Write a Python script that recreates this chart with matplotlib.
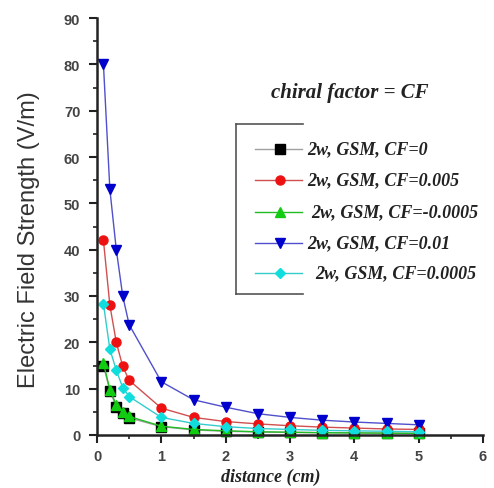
import matplotlib
matplotlib.use("Agg")
import matplotlib.pyplot as plt
from matplotlib.lines import Line2D
from matplotlib.ticker import MultipleLocator

# ---- data ----
distance = [0.1, 0.2, 0.3, 0.4, 0.5, 1.0, 1.5, 2.0, 2.5, 3.0, 3.5, 4.0, 4.5, 5.0]
cf_0 = [15.0, 9.6, 6.0, 4.8, 3.7, 1.8, 1.1, 0.8, 0.65, 0.55, 0.5, 0.45, 0.4, 0.35]
cf_0005 = [42.0, 28.0, 20.0, 14.8, 11.8, 5.8, 3.8, 2.9, 2.4, 2.0, 1.7, 1.5, 1.3, 1.2]
cf_neg00005 = [15.5, 9.8, 6.5, 5.0, 4.0, 1.9, 1.2, 0.9, 0.7, 0.6, 0.5, 0.45, 0.4, 0.35]
cf_001 = [80.0, 53.0, 40.0, 30.0, 23.8, 11.5, 7.6, 6.0, 4.6, 3.8, 3.2, 2.8, 2.5, 2.2]
cf_00005 = [28.3, 18.5, 14.0, 10.2, 8.3, 3.8, 2.5, 1.8, 1.4, 1.2, 1.0, 0.9, 0.8, 0.7]

labels = ["2w, GSM, CF=0", "2w, GSM, CF=0.005", "2w, GSM, CF=-0.0005",
          "2w, GSM, CF=0.01", "2w, GSM, CF=0.0005"]
x_ticks = [0, 1, 2, 3, 4, 5, 6]
y_ticks = [0, 10, 20, 30, 40, 50, 60, 70, 80, 90]

W, H = 494, 489
fig = plt.figure(figsize=(W / 100, H / 100), dpi=100)
ax = fig.add_axes([97 / W, 1 - 436 / H, (483 - 97) / W, (436 - 19) / H])

series = [
    (cf_0, "#a0a0a0", "black", "s"),
    (cf_0005, "#d05050", "#ee1111", "o"),
    (cf_neg00005, "#22bb22", "#11cc11", "^"),
    (cf_001, "#5050cc", "#0000cc", "v"),
    (cf_00005, "#33cccc", "#11dddd", "D"),
]
for vals, lc, mc, mk in series:
    ms = 6.5 if mk != "D" else 5
    ax.plot(distance, vals, color=lc, lw=1.0, marker=mk, ms=ms,
            markerfacecolor=mc, markeredgecolor=mc, clip_on=False)

ax.set_xlim(0, 6)
ax.set_ylim(0, 90)
ax.set_xticks(x_ticks)
ax.set_yticks(y_ticks)
ax.xaxis.set_minor_locator(MultipleLocator(0.5))
ax.yaxis.set_minor_locator(MultipleLocator(5))
for s in ["top", "right"]:
    ax.spines[s].set_visible(False)
for s in ["left", "bottom"]:
    ax.spines[s].set_linewidth(1.8)
    ax.spines[s].set_color("#222222")
ax.tick_params(which="major", direction="out", length=6, width=1.5,
               colors="#222222", labelsize=10.5)
ax.tick_params(axis="y", which="major", pad=6)
ax.tick_params(axis="x", which="major", pad=4)
ax.tick_params(which="minor", direction="out", length=3, width=1.2, colors="#222222")
for lab in ax.get_xticklabels() + ax.get_yticklabels():
    lab.set_fontfamily("Liberation Sans")
    lab.set_fontweight("bold")
    lab.set_color("#444444")

ax.set_ylabel("Electric Field Strength (V/m)", fontsize=17,
              family="Liberation Sans", color="#333333")
ax.yaxis.set_label_coords((40 - 97) / (483 - 97), (436 - 240) / (436 - 19))

serif = dict(family="Liberation Serif", style="italic", weight="bold", color="#222222")
fig.text(271 / W, 1 - 477 / H, "distance (cm)", ha="center", va="center",
         fontsize=13, **serif)
fig.text(350 / W, 1 - 93 / H, "chiral factor = CF", ha="center", va="center",
         fontsize=15, **serif)

# legend drawn manually
def px(x, y):
    return x / W, 1 - y / H

frame = [((303, 125), (236, 125)), ((236, 125), (236, 295)), ((236, 295), (303, 295))]
for (x0, y0), (x1, y1) in frame:
    (a0, b0), (a1, b1) = px(x0, y0), px(x1, y1)
    fig.add_artist(Line2D([a0, a1], [b0, b1], color="#555555", lw=1.2))

entry_y = [150, 181, 213, 244, 274]
text_x = [307, 307, 311, 307, 315]
for (vals, lc, mc, mk), lab, ey, tx in zip(series, labels, entry_y, text_x):
    (a0, b0), (a1, _) = px(255, ey), px(302, ey)
    fig.add_artist(Line2D([a0, a1], [b0, b0], color=lc, lw=1.0))
    mx, _ = px(280, ey)
    fig.add_artist(Line2D([mx], [b0], marker=mk, ms=6.5 if mk != "D" else 5,
                          markerfacecolor=mc, markeredgecolor=mc, lw=0))
    tx_, ty_ = px(tx, ey)
    fig.text(tx_, ty_, lab, ha="left", va="center", fontsize=13, **serif)

fig.savefig("out.png", dpi=100)
